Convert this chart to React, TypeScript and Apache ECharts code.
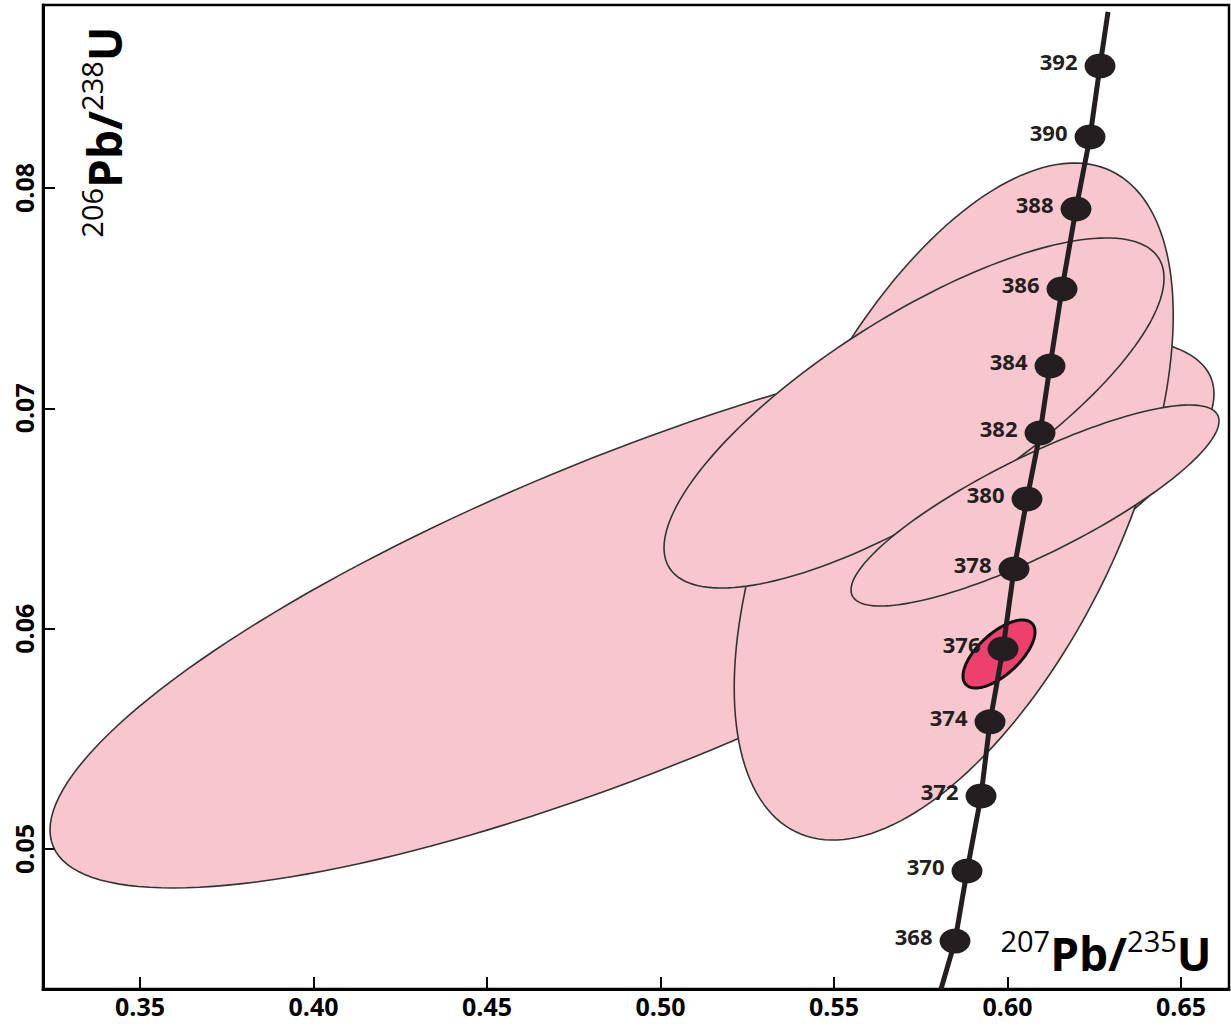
import React, { useEffect, useRef } from "react";
import * as echarts from "echarts";

// ---- Axis ranges and tick labels ----
const X_MIN = 0.32205;
const X_MAX = 0.66383;
const Y_MIN = 0.043646;
const Y_MAX = 0.088306;
const X_TICKS = [0.35, 0.4, 0.45, 0.5, 0.55, 0.6, 0.65];
const Y_TICKS = [0.05, 0.06, 0.07, 0.08];

// ---- Concordia age markers (Ma) ----
const AGES = [368, 370, 372, 374, 376, 378, 380, 382, 384, 386, 388, 390, 392];
const AGE_X = [0.58487, 0.58833, 0.59237, 0.59496, 0.59871, 0.60188, 0.60562, 0.60937, 0.61225, 0.61571, 0.61974, 0.62378, 0.62666];
const AGE_Y = [0.04582, 0.049, 0.05241, 0.05577, 0.05908, 0.06271, 0.06589, 0.06888, 0.07192, 0.07542, 0.07905, 0.08232, 0.08554];
// concordia curve end points (beyond the first/last marker)
const CURVE_START = [0.58084, 0.043646];
const CURVE_END = [0.62897, 0.08799];

// ---- Error ellipses: centre, half-extent in x, half-extent in y, correlation ----
const ELLIPSE_CX = [0.49179, 0.5845, 0.57306, 0.60793, 0.59755];
const ELLIPSE_CY = [0.06076, 0.06577, 0.06979, 0.06559, 0.05885];
const ELLIPSE_SX = [0.16772, 0.063256, 0.072046, 0.053026, 0.010375];
const ELLIPSE_SY = [0.012527, 0.015363, 0.007943, 0.004561, 0.001543];
const ELLIPSE_RHO = [0.79, 0.55, 0.77, 0.84, 0.65];

// styles
const ELLIPSE_FILL = ["#F8C6CF", "#F8C6CF", "#F8C6CF", "#F8C6CF", "#EC406E"];
const ELLIPSE_STROKE = ["#333333", "#333333", "#333333", "#333333", "#111111"];
const ELLIPSE_LW = [1.6, 1.6, 1.6, 1.6, 3];

const FONT = "'Open Sans', 'Noto Sans', sans-serif";

export default function App() {
  const ref = useRef<HTMLDivElement>(null);

  useEffect(() => {
    if (!ref.current) return;
    const chart = echarts.init(ref.current, undefined, { renderer: "svg" });

    const ellipseData = ELLIPSE_CX.map((cx, i) => [cx, ELLIPSE_CY[i], ELLIPSE_SX[i], ELLIPSE_SY[i], ELLIPSE_RHO[i]]);
    const ageData = AGES.map((a, i) => [AGE_X[i], AGE_Y[i], a]);
    const curveData = [CURVE_START, ...AGE_X.map((x, i) => [x, AGE_Y[i]]), CURVE_END];

    const titleRich = {
      sup: { fontSize: 29, fontWeight: "normal", fontFamily: FONT, color: "#000", verticalAlign: "top", lineHeight: 30 },
      big: { fontSize: 46, fontWeight: "bold", fontFamily: FONT, color: "#000", lineHeight: 54 },
    };

    chart.setOption({
      animation: false,
      backgroundColor: "#fff",
      grid: {
        left: 43,
        top: 5,
        width: 1186,
        height: 984,
        show: true,
        borderColor: "#000",
        borderWidth: 2.5,
        backgroundColor: "transparent",
      },
      xAxis: {
        type: "value",
        min: X_MIN,
        max: X_MAX,
        splitLine: { show: false },
        axisLine: { show: true, lineStyle: { color: "#000", width: 3 } },
        axisTick: { show: true, inside: true, length: 12, customValues: X_TICKS, lineStyle: { color: "#000", width: 2 } },
        axisLabel: {
          customValues: X_TICKS,
          formatter: (v: number) => v.toFixed(2),
          fontFamily: FONT,
          fontWeight: "bold",
          fontSize: 25,
          color: "#000",
          margin: 4,
        },
      },
      yAxis: {
        type: "value",
        min: Y_MIN,
        max: Y_MAX,
        splitLine: { show: false },
        axisLine: { show: true, lineStyle: { color: "#000", width: 3 } },
        axisTick: { show: true, inside: true, length: 12, customValues: Y_TICKS, lineStyle: { color: "#000", width: 2 } },
        axisLabel: {
          customValues: Y_TICKS,
          formatter: (v: number) => v.toFixed(2),
          rotate: 90,
          fontFamily: FONT,
          fontWeight: "bold",
          fontSize: 25,
          color: "#000",
          margin: 7,
        },
      },
      graphic: [
        {
          type: "text",
          x: 104,
          y: 132,
          rotation: Math.PI / 2,
          z: 10,
          style: {
            text: "{sup|206}{big|Pb/}{sup|238}{big|U}",
            rich: titleRich,
            align: "center",
            verticalAlign: "middle",
          },
        },
        {
          type: "text",
          x: 1106,
          y: 953,
          z: 10,
          style: {
            text: "{sup|207}{big|Pb/}{sup|235}{big|U}",
            rich: titleRich,
            align: "center",
            verticalAlign: "middle",
          },
        },
      ],
      series: [
        {
          type: "custom",
          z: 1,
          clip: true,
          encode: { x: 0, y: 1 },
          data: ellipseData,
          renderItem: (params: any, api: any) => {
            const cx = api.value(0);
            const cy = api.value(1);
            const sx = api.value(2);
            const sy = api.value(3);
            const r = api.value(4);
            const k = Math.sqrt(1 - r * r);
            const pts: number[][] = [];
            const n = 180;
            for (let j = 0; j < n; j++) {
              const t = (2 * Math.PI * j) / n;
              pts.push(api.coord([cx + sx * Math.cos(t), cy + sy * (r * Math.cos(t) + k * Math.sin(t))]));
            }
            const i = params.dataIndex;
            return {
              type: "polygon",
              shape: { points: pts },
              style: { fill: ELLIPSE_FILL[i], stroke: ELLIPSE_STROKE[i], lineWidth: ELLIPSE_LW[i] },
            };
          },
        },
        {
          type: "line",
          z: 2,
          data: curveData,
          symbol: "none",
          lineStyle: { color: "#231F20", width: 5 },
          silent: true,
        },
        {
          type: "scatter",
          z: 3,
          data: ageData,
          symbol: "circle",
          symbolSize: [31, 25],
          itemStyle: { color: "#231F20", opacity: 1 },
          label: {
            show: true,
            position: "left",
            distance: 7,
            offset: [0, -5],
            formatter: (p: any) => String(p.value[2]),
            fontFamily: FONT,
            fontWeight: "bold",
            fontSize: 22,
            color: "#231F20",
          },
        },
      ],
    });

    return () => chart.dispose();
  }, []);

  return <div ref={ref} style={{ position: "absolute", left: 0, top: 0, width: 1231, height: 1026 }} />;
}
